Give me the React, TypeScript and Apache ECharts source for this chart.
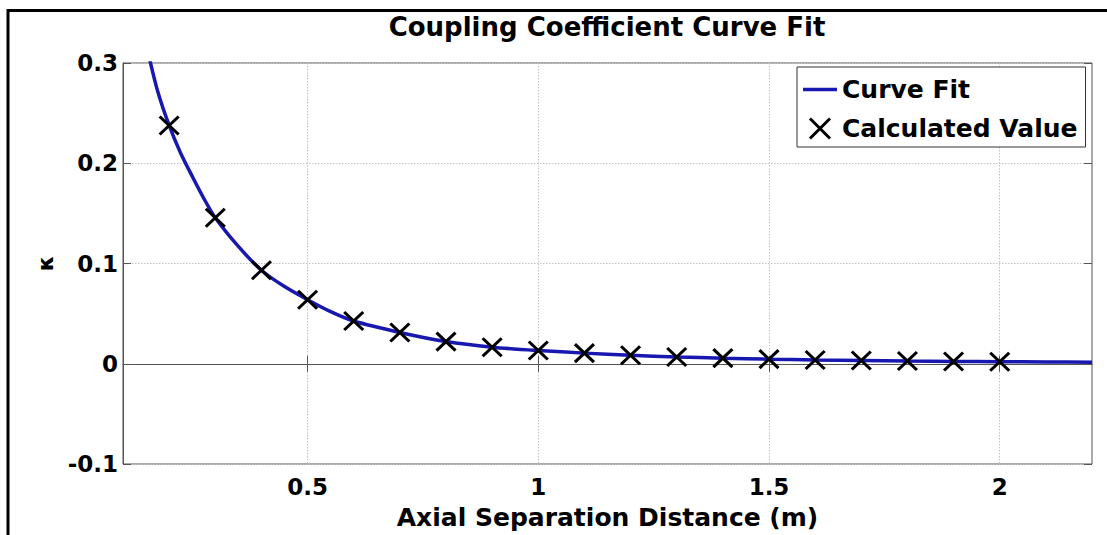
import React, { useEffect, useRef } from "react";
import * as echarts from "echarts";

const titleText = "Coupling Coefficient Curve Fit";
const xName = "Axial Separation Distance (m)";
const yName = "κ";

const xMarkers = [0.2, 0.3, 0.4, 0.5, 0.6, 0.7, 0.8, 0.9, 1.0, 1.1, 1.2, 1.3, 1.4, 1.5, 1.6, 1.7, 1.8, 1.9, 2.0];
const kMarkers = [0.2377, 0.1456, 0.0933, 0.0639, 0.0426, 0.0312, 0.0221, 0.0165, 0.0132, 0.0106, 0.0084, 0.0068, 0.0056, 0.0046, 0.0038, 0.0032, 0.0027, 0.0023, 0.002];

const xCurve = [0.155, 0.175, 0.2, 0.225, 0.25, 0.275, 0.3, 0.35, 0.4, 0.45, 0.5, 0.55, 0.6, 0.7, 0.8, 0.9, 1.0, 1.1, 1.2, 1.3, 1.4, 1.5, 1.6, 1.7, 1.8, 1.9, 2.0, 2.1, 2.2];
const kCurve = [0.309, 0.272, 0.2377, 0.21, 0.187, 0.165, 0.1456, 0.117, 0.0933, 0.077, 0.0639, 0.052, 0.0426, 0.0312, 0.0221, 0.0165, 0.0132, 0.0106, 0.0084, 0.0068, 0.0056, 0.0046, 0.0038, 0.0032, 0.0027, 0.0023, 0.002, 0.0018, 0.0016];

const xTicks = [0.5, 1, 1.5, 2];
const xMin = 0.1;
const xMax = 2.2;
const yMin = -0.1;
const yMax = 0.3;
const yStep = 0.1;

const FONT = "DejaVu Sans";
const CROSS = "path://M0,0L20,20M20,0L0,20";
const BAR = "path://M0,0H34V3.5H0Z";
const BLUE = "#1818b0";

export default function App() {
  const ref = useRef<HTMLDivElement>(null);
  useEffect(() => {
    if (!ref.current) return;
    const chart = echarts.init(ref.current, undefined, { renderer: "svg" });
    const fmt = (v: number) => String(Number(v.toFixed(2)));
    const tickStyle = { show: true, inside: true, length: 8, lineStyle: { color: "#555", width: 1 } };
    const gridLine = { show: true, lineStyle: { color: "#c2c2c2", type: [1.5, 1.5] as any, width: 1 } };
    chart.setOption({
      animation: false,
      backgroundColor: "#fff",
      title: {
        text: titleText,
        left: 607,
        top: 14,
        padding: 0,
        textAlign: "center",
        textStyle: { fontFamily: FONT, fontWeight: "bold", fontSize: 26, color: "#000" },
      },
      grid: { left: 123, right: 15, top: 63, bottom: 64, show: true, borderColor: "#555", borderWidth: 1, backgroundColor: "transparent" },
      legend: {
        orient: "vertical",
        left: 797,
        top: 67,
        padding: [10, 8, 6, 6],
        itemWidth: 34,
        itemHeight: 20,
        itemGap: 14,
        backgroundColor: "#fff",
        borderColor: "#333",
        borderWidth: 1,
        textStyle: { fontFamily: FONT, fontWeight: "bold", fontSize: 25, color: "#000" },
        data: [
          { name: "Curve Fit", icon: BAR, itemStyle: { color: BLUE, borderWidth: 0 } },
          { name: "Calculated Value", icon: CROSS, itemStyle: { color: "transparent", borderColor: "#000", borderWidth: 3 } },
        ],
      },
      xAxis: [
        {
          type: "value",
          min: xMin,
          max: xMax,
          name: xName,
          nameLocation: "middle",
          nameGap: 41,
          nameTextStyle: { fontFamily: FONT, fontWeight: "bold", fontSize: 25, color: "#000" },
          axisLine: { show: true, lineStyle: { color: "#555" } },
          axisTick: { ...tickStyle, customValues: xTicks },
          axisLabel: { customValues: xTicks, formatter: fmt, margin: 11, fontFamily: FONT, fontWeight: "bold", fontSize: 23, color: "#000" },
          splitLine: gridLine,
        },
        {
          type: "value",
          position: "top",
          min: xMin,
          max: xMax,
          axisLine: { show: false },
          axisTick: { ...tickStyle, customValues: xTicks },
          axisLabel: { show: false, customValues: xTicks },
          splitLine: { show: false },
        },
      ],
      yAxis: [
        {
          type: "value",
          min: yMin,
          max: yMax,
          interval: yStep,
          name: yName,
          nameLocation: "middle",
          nameRotate: 90,
          nameGap: 64,
          nameTextStyle: { fontFamily: FONT, fontWeight: "bold", fontSize: 22, color: "#000" },
          axisLine: { show: true, lineStyle: { color: "#555" } },
          axisTick: tickStyle,
          axisLabel: { formatter: fmt, margin: 5, fontFamily: FONT, fontWeight: "bold", fontSize: 23, color: "#000" },
          splitLine: gridLine,
        },
        {
          type: "value",
          position: "right",
          min: yMin,
          max: yMax,
          interval: yStep,
          axisLine: { show: false },
          axisTick: tickStyle,
          axisLabel: { show: false },
          splitLine: { show: false },
        },
      ],
      graphic: [
        {
          type: "polyline",
          shape: { points: [[8, 600], [8, 10.5], [1200, 10.5]] },
          style: { stroke: "#000", lineWidth: 3, fill: "none" },
          silent: true,
        },
      ],
      series: [
        {
          name: "Curve Fit",
          type: "line",
          xAxisIndex: 0,
          yAxisIndex: 0,
          data: xCurve.map((x, i) => [x, kCurve[i]]),
          smooth: 0.25,
          showSymbol: false,
          symbol: "none",
          lineStyle: { color: BLUE, width: 3.5 },
          itemStyle: { color: BLUE },
          clip: true,
          z: 3,
        },
        {
          name: "Calculated Value",
          type: "scatter",
          xAxisIndex: 0,
          yAxisIndex: 0,
          data: xMarkers.map((x, i) => [x, kMarkers[i]]),
          symbol: CROSS,
          symbolSize: [19, 18],
          itemStyle: { color: "transparent", borderColor: "#000", borderWidth: 3, opacity: 1 },
          z: 4,
        },
      ],
    });
    return () => chart.dispose();
  }, []);
  return <div ref={ref} style={{ position: "fixed", left: 0, top: 0, width: 1107, height: 535 }} />;
}
